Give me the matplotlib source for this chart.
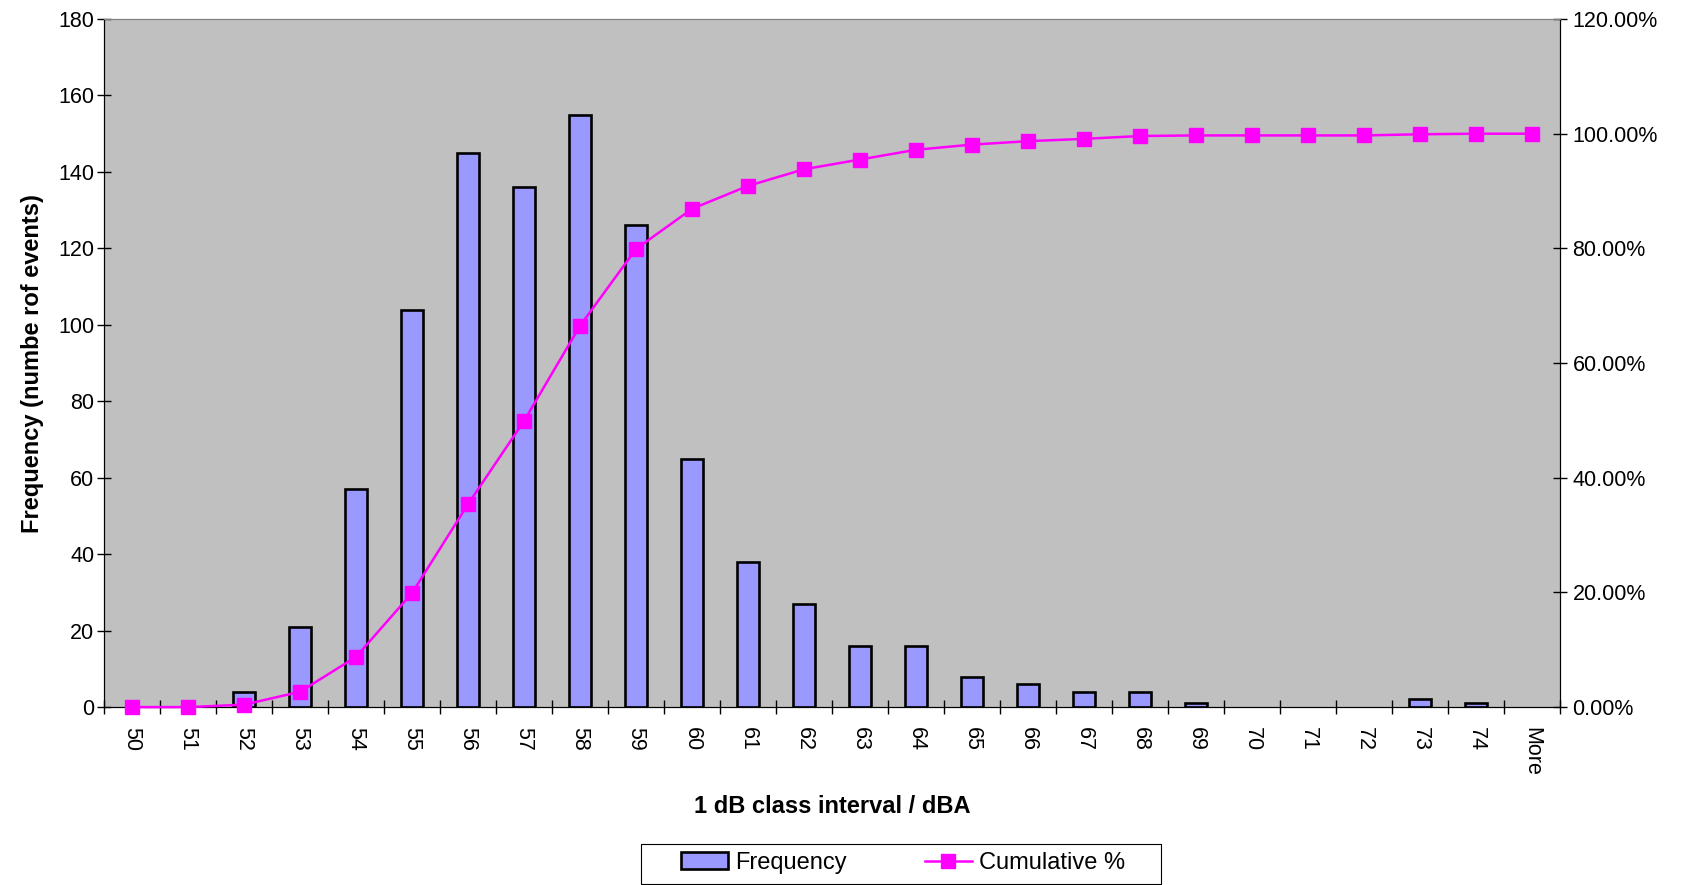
import matplotlib.pyplot as plt
from matplotlib.patches import Patch, Rectangle
import numpy as np

plt.rcParams['font.family'] = ['Liberation Sans', 'DejaVu Sans']

# class intervals and values
categories = ['50', '51', '52', '53', '54', '55', '56', '57', '58', '59', '60',
              '61', '62', '63', '64', '65', '66', '67', '68', '69', '70', '71',
              '72', '73', '74', 'More']
frequency = [0, 0, 4, 21, 57, 104, 145, 136, 155, 126, 65, 38, 27, 16, 16,
             8, 6, 4, 4, 1, 0, 0, 0, 2, 1, 0]
cumulative = [0.0, 0.0, 0.43, 2.67, 8.76, 19.9, 35.4, 49.9, 66.5, 79.9, 86.9,
              90.9, 93.8, 95.5, 97.2, 98.1, 98.7, 99.1, 99.6, 99.7, 99.7,
              99.7, 99.7, 99.9, 100.0, 100.0]

bar_color = '#9999FF'
x = np.arange(len(categories))

fig = plt.figure(figsize=(16.86, 8.85), dpi=100)
ax = fig.add_axes([0.0617, 0.201, 0.8636, 0.7775])
ax.set_facecolor('#C0C0C0')

bars = ax.bar(x, frequency, width=0.4, color=bar_color, edgecolor='black',
              linewidth=1.9, zorder=2)
# empty classes show no outline
for b, f in zip(bars, frequency):
    if f == 0:
        b.set_visible(False)

ax.set_xlim(-0.5, len(categories) - 0.5)
ax.set_ylim(0, 180)
ax.set_yticks(range(0, 181, 20))
ax.set_xticks(x)
ax.set_xticklabels(categories, rotation=-90)
ax.set_xticks(np.arange(len(categories) + 1) - 0.5, minor=True)
ax.tick_params(axis='x', which='major', length=0, pad=14, labelsize=15.5)
ax.tick_params(axis='x', which='minor', direction='inout', length=10, width=1)
ax.tick_params(axis='y', direction='inout', length=10, width=1, labelsize=15.5, pad=2)

ax.set_ylabel('Frequency (numbe rof events)', fontsize=17, fontweight='bold', labelpad=10)
ax.set_xlabel('1 dB class interval / dBA', fontsize=17, fontweight='bold', labelpad=14)

ax2 = ax.twinx()
line, = ax2.plot(x, cumulative, color='#FF00FF', lw=1.8, marker='s',
                 markersize=10, zorder=3, clip_on=False)
ax2.set_ylim(0, 120)
ax2.set_yticks(range(0, 121, 20))
ax2.set_yticklabels([f'{v:.2f}%' for v in range(0, 121, 20)])
ax2.tick_params(axis='y', direction='inout', length=10, width=1, labelsize=15.5, pad=4)

for a in (ax, ax2):
    a.spines['top'].set_color('#808080')
    a.spines['left'].set_color('black')
    a.spines['right'].set_color('black')
    a.spines['bottom'].set_color('black')

# legend box drawn separately so the inner spacing matches the original
fig.patches.append(Rectangle((0.3802, 0.0011), 0.3084, 0.0452, transform=fig.transFigure,
                             facecolor='white', edgecolor='black', linewidth=0.8))
freq_handle = Patch(facecolor=bar_color, edgecolor='black', linewidth=1.9)
leg = fig.legend([freq_handle, line], ['Frequency', 'Cumulative %'], loc='center',
                 bbox_to_anchor=(0.5356, 0.0249), borderaxespad=0, ncol=2, fontsize=17,
                 frameon=False, handlelength=2.0, handletextpad=0.3,
                 columnspacing=3.3, borderpad=0)

fig.savefig('out.png', dpi=100)
